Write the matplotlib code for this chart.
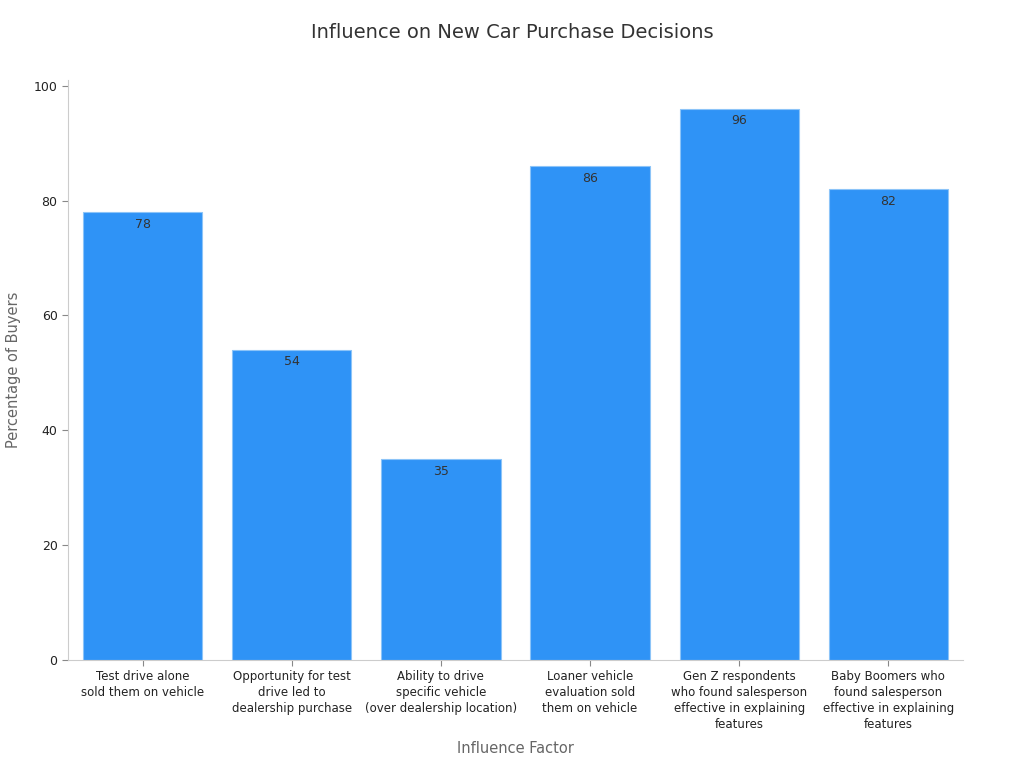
import matplotlib
matplotlib.use("Agg")
import matplotlib.pyplot as plt

# Data
factors = [
    "Test drive alone\nsold them on vehicle",
    "Opportunity for test\ndrive led to\ndealership purchase",
    "Ability to drive\nspecific vehicle\n(over dealership location)",
    "Loaner vehicle\nevaluation sold\nthem on vehicle",
    "Gen Z respondents\nwho found salesperson\neffective in explaining\nfeatures",
    "Baby Boomers who\nfound salesperson\neffective in explaining\nfeatures",
]
percentages = [78, 54, 35, 86, 96, 82]

plt.rcParams["font.family"] = "DejaVu Sans"

fig = plt.figure(figsize=(10.24, 7.68), dpi=100)
ax = fig.add_axes([68 / 1024, 108 / 768, 895 / 1024, 580 / 768])

x = range(len(factors))
bars = ax.bar(x, percentages, width=0.8, color="#2f93f6", edgecolor="#8cc4f8", linewidth=0.8)

# value labels just inside the top of each bar
for b, v in zip(bars, percentages):
    ax.annotate(str(v), (b.get_x() + b.get_width() / 2, v), xytext=(0, -4),
                textcoords="offset points", ha="center", va="top",
                fontsize=9, color="#333333")

ax.set_xlim(-0.5, 5.5)
ax.set_ylim(0, 101)
ax.set_xticks(list(x))
ax.set_xticklabels(factors, fontsize=8.5, color="#222222", linespacing=1.3)
ax.set_yticks([0, 20, 40, 60, 80, 100])
ax.tick_params(axis="y", labelsize=9, colors="#222222", length=4, color="#888888")
ax.tick_params(axis="x", length=4, color="#888888")

for s in ["top", "right"]:
    ax.spines[s].set_visible(False)
for s in ["left", "bottom"]:
    ax.spines[s].set_color("#cccccc")

ax.set_xlabel("Influence Factor", fontsize=10.5, color="#666666", labelpad=7)
ax.set_ylabel("Percentage of Buyers", fontsize=10.5, color="#666666")
ax.yaxis.set_label_coords(-0.053, 0.5)
fig.suptitle("Influence on New Car Purchase Decisions", fontsize=14, color="#333333", y=0.97)

fig.savefig("out.png", dpi=100)
